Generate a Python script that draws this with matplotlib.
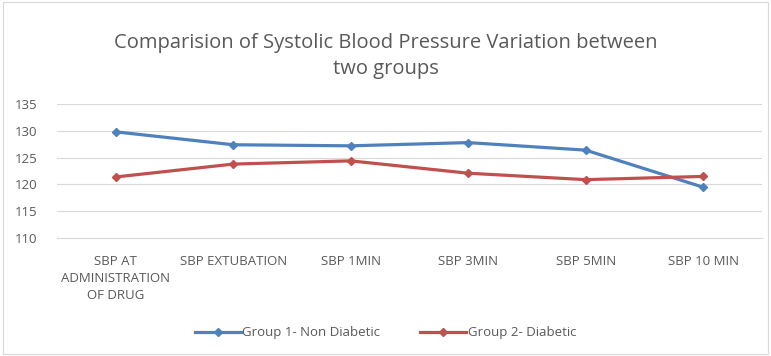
import numpy as np
import matplotlib.pyplot as plt
from matplotlib.patches import Rectangle

plt.rcParams['font.family'] = ['Liberation Sans Narrow', 'Open Sans', 'DejaVu Sans']

categories = ["SBP AT\nADMINISTRATION\nOF DRUG", "SBP EXTUBATION", "SBP 1MIN",
              "SBP 3MIN", "SBP 5MIN", "SBP 10 MIN"]
group1 = [129.8, 127.4, 127.2, 127.8, 126.4, 119.5]
group2 = [121.4, 123.8, 124.4, 122.1, 120.9, 121.5]
yticks = [110, 115, 120, 125, 130, 135]

fig = plt.figure(figsize=(7.71, 3.56), dpi=100)
fig.patches.append(Rectangle((0.004, 0.006), 0.992, 0.988, transform=fig.transFigure,
                             fill=False, edgecolor='#d9d9d9', linewidth=0.8))
ax = fig.add_axes([0.074, 0.331, 0.914, 0.377])

x = np.arange(len(categories))
ax.plot(x, group1, color='#4F81BD', linewidth=2.3, marker='D', markersize=4,
        label='Group 1- Non Diabetic')
ax.plot(x, group2, color='#C0504D', linewidth=2.3, marker='D', markersize=4,
        label='Group 2- Diabetic')

ax.set_xlim(-0.5, len(categories) - 0.5)
ax.set_ylim(110, 135)
ax.set_yticks(yticks)
ax.set_xticks(x)
ax.set_xticklabels(categories, fontsize=9.5, color='#595959', linespacing=1.4)
ax.tick_params(axis='y', labelsize=9.5, colors='#595959', length=0, pad=14)
ax.tick_params(axis='x', length=0, pad=12)
ax.grid(axis='y', color='#d9d9d9', linewidth=0.8)
ax.set_axisbelow(True)
for s in ['top', 'right', 'left']:
    ax.spines[s].set_visible(False)
ax.spines['bottom'].set_color('#d9d9d9')

fig.text(0.5, 0.843, "Comparision of Systolic Blood Pressure Variation between\ntwo groups",
         ha='center', va='center', fontsize=14.5, color='#595959', linespacing=1.45)

fig.legend(loc='center', bbox_to_anchor=(0.5, 0.065), ncol=2, frameon=False,
           fontsize=9.5, labelcolor='#595959', handlelength=3.5, columnspacing=3,
           handletextpad=0.1)

fig.savefig('out.png', dpi=100)
